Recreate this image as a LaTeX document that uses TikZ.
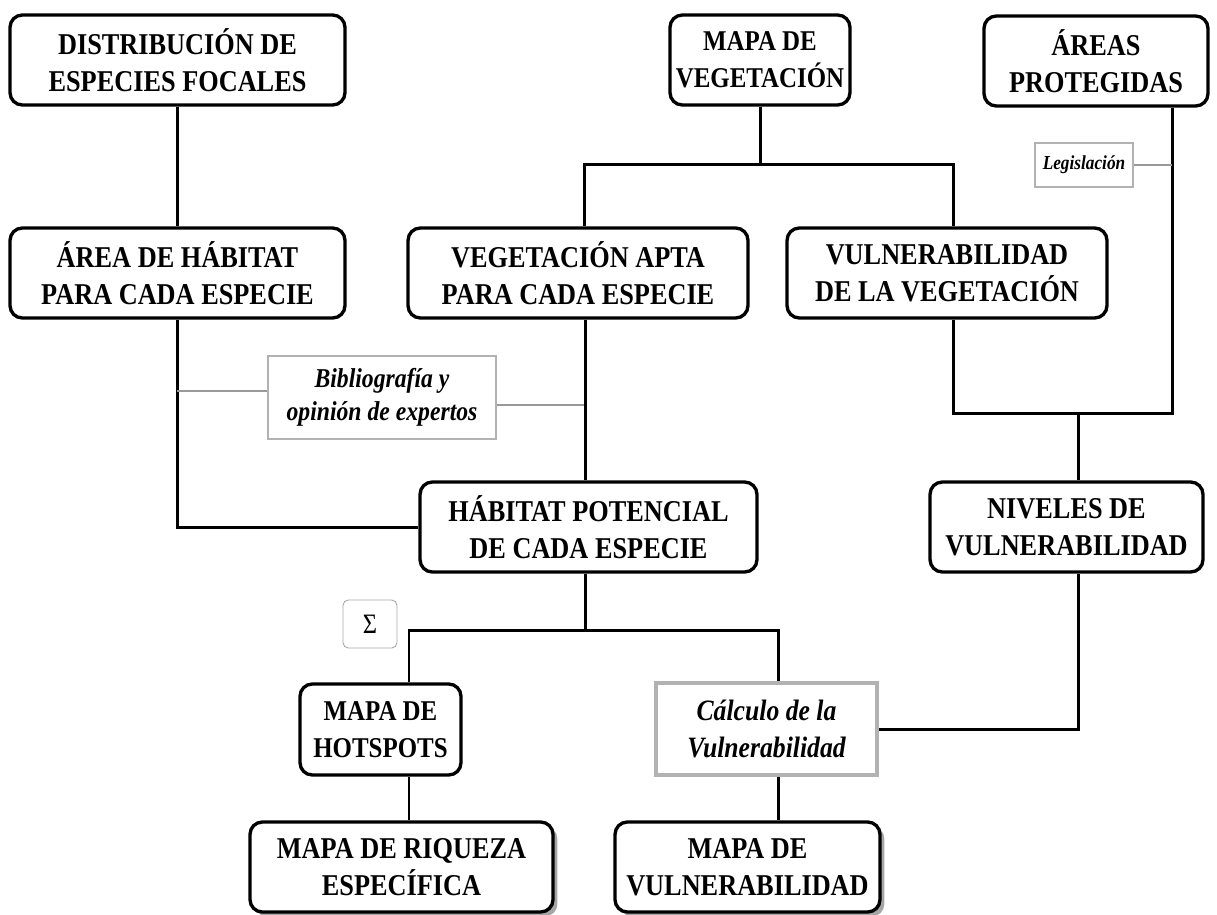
\documentclass[tikz,border=0pt]{standalone}
\usepackage{fontspec}
\setmainfont{Liberation Serif}[FakeStretch=0.87]
\usetikzlibrary{calc,shadows}

\begin{document}
\begin{tikzpicture}[
  x=0.02cm, y=-0.02cm,
  box/.style={draw, fill=white, line width=1.9pt, rounded corners=7pt, minimum height=1.8cm,
              align=center, inner sep=2pt, font=\bfseries\fontsize{17.2}{20.8}\selectfont},
  smallbox/.style={box, font=\bfseries\fontsize{16.3}{20.8}\selectfont},
  note/.style={draw=gray!60, line width=0.6pt, align=center, inner sep=2pt,
               font=\bfseries\itshape\fontsize{15.5}{19}\selectfont},
  link/.style={line width=1.7pt},
  thinlink/.style={draw=gray!80, line width=0.6pt},
  shadowed/.style={drop shadow={shadow xshift=2.5pt, shadow yshift=-2.5pt,
                   fill=gray!70, opacity=1}},
]
  \useasboundingbox (0,0) rectangle (1217,914);

  % Top row: input data
  \node[box, minimum width=6.7cm]       (dist)   at (177.5,60) {DISTRIBUCIÓN DE\\ESPECIES FOCALES};
  \node[smallbox, minimum width=3.6cm]  (vegmap) at (760,60)   {MAPA DE\\VEGETACIÓN};
  \node[box, minimum width=4.48cm]      (areas)  at (1096,61)  {ÁREAS\\PROTEGIDAS};

  % Second row
  \node[box, minimum width=6.7cm] (habitat) at (177.5,273) {ÁREA DE HÁBITAT\\PARA CADA ESPECIE};
  \node[box, minimum width=6.8cm] (vegapta) at (578,273)   {VEGETACIÓN APTA\\PARA CADA ESPECIE};
  \node[box, minimum width=6.4cm] (vulnveg) at (947,273)   {VULNERABILIDAD\\DE LA VEGETACIÓN};

  % Third row
  \node[box, minimum width=6.74cm] (hp)      at (588.5,527)  {HÁBITAT POTENCIAL\\DE CADA ESPECIE};
  \node[box, minimum width=5.46cm] (niveles) at (1066.5,527) {NIVELES DE\\VULNERABILIDAD};

  % Bottom rows: results
  \node[smallbox, minimum width=3.22cm, minimum height=1.82cm] (hotspots) at (380.5,729.5) {MAPA DE\\HOTSPOTS};
  \node[box, shadowed, minimum width=6.06cm] (riqueza) at (401.5,867) {MAPA DE RIQUEZA\\ESPECÍFICA};
  \node[box, shadowed, minimum width=5.3cm]  (vulnmap) at (747.5,867) {MAPA DE\\VULNERABILIDAD};

  % Notes on the links
  \node[note, minimum width=4.56cm, minimum height=1.66cm] (biblio) at (382,397.5)
    {Bibliografía y\\opinión de expertos};
  \node[note, minimum width=1.96cm, minimum height=0.88cm,
        font=\bfseries\itshape\fontsize{11.3}{13}\selectfont] (legis) at (1084,165) {Legislación};
  \node[note, draw=gray!60, line width=1.8pt, minimum width=4.42cm, minimum height=1.84cm,
        font=\bfseries\itshape\fontsize{16.8}{21}\selectfont] (calc) at (766.5,729)
    {Cálculo de la\\Vulnerabilidad};
  \node[draw=gray!70, line width=0.5pt, rounded corners=3pt, minimum width=1.08cm,
        minimum height=0.96cm, font=\fontsize{16}{18}\selectfont] (sigma) at (370,624) {Σ};

  % Vegetation map split
  \coordinate (vegL) at (584,164);
  \coordinate (vegR) at (953,164);
  \draw[link] (dist) -- (habitat);
  \draw[link] (vegmap.south) -- (vegmap.south |- vegL);
  \draw[link] (vegapta.north -| vegL) -- (vegL) -- (vegR) -- (vulnveg.north -| vegR);

  % Protected areas and vulnerability
  \coordinate (protR) at (1172,413);
  \coordinate (vulnL) at (953,413);
  \coordinate (vulnM) at (1078,413);
  \draw[link] (areas.south -| protR) -- (protR) -- (vulnL) -- (vulnveg.south -| vulnL);
  \draw[link] (vulnM) -- (niveles.north -| vulnM);
  \draw[thinlink] (legis.east) -- (legis.east -| protR);

  % Habitat to potential habitat
  \coordinate (bibL) at (177,391);
  \coordinate (bibR) at (585,405);
  \draw[link] (habitat.south) |- (hp.west);
  \draw[thinlink] (bibL) -- (biblio.west |- bibL);
  \draw[thinlink] (biblio.east |- bibR) -- (bibR);
  \draw[link] (vegapta.south -| bibR) -- (hp.north -| bibR);

  % Potential habitat to results
  \coordinate (hpL) at (409,630);
  \coordinate (hpR) at (778,630);
  \draw[link] (hp.south -| bibR) -- (bibR |- hpL);
  \draw[link] (hotspots.north -| hpL) -- (hpL) -- (hpR) -- (calc.north -| hpR);
  \draw[link] (hotspots.south -| hpL) -- (riqueza.north -| hpL);
  \draw[link] (calc.south -| hpR) -- (vulnmap.north -| hpR);
  \draw[link] (niveles.south -| vulnM) |- (calc.east);
\end{tikzpicture}
\end{document}
